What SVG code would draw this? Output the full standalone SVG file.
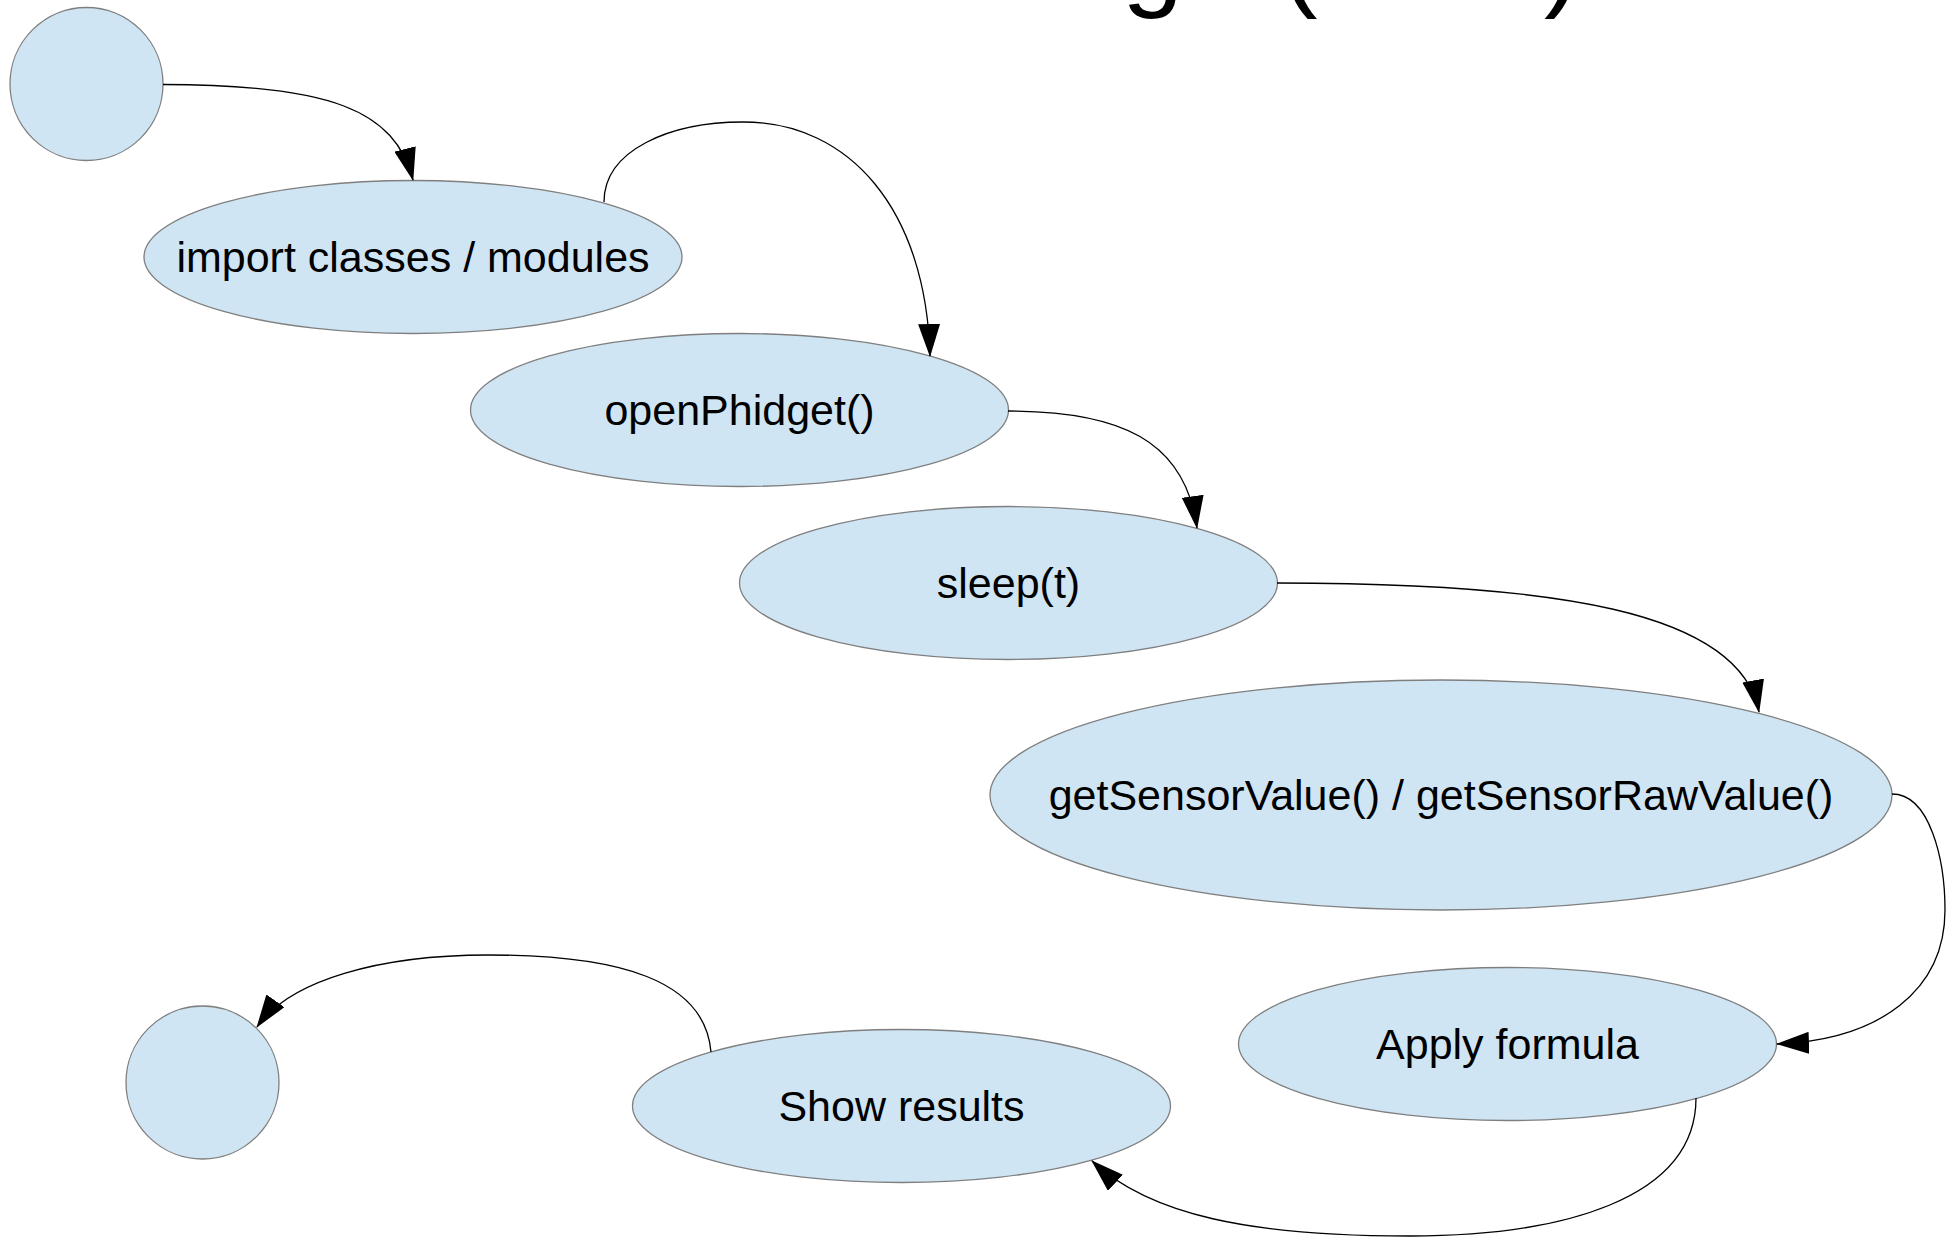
<svg xmlns="http://www.w3.org/2000/svg" width="1952" height="1239" viewBox="0 0 1952 1239">
  <style>
    .node ellipse { fill: #cfe5f3; stroke: #7f7f7f; stroke-width: 1.3; }
    .node text { font-family: "Liberation Sans", Arial, sans-serif; font-size: 43px; fill: #000; text-anchor: middle; }
    .edge { fill: none; stroke: #000; stroke-width: 1.3; marker-end: url(#arrow); }
    .title { font-family: "Liberation Sans", Arial, sans-serif; font-size: 110px; fill: #000; }
  </style>
  <defs>
    <marker id="arrow" markerUnits="userSpaceOnUse" markerWidth="33" markerHeight="22" viewBox="0 0 33 22" refX="32" refY="11" orient="auto">
      <path d="M0,0 L33,11 L0,22 Z" fill="#000"/>
    </marker>
  </defs>
  <rect width="1952" height="1239" fill="#fff"/>

  <text class="title" y="-4" x="1122 1281 1544">g()</text>

  <g id="start" class="node"><ellipse cx="86.5" cy="84" rx="76.5" ry="76.5"/></g>
  <g id="import" class="node"><ellipse cx="413" cy="257" rx="269" ry="76.5"/><text x="413" y="272">import classes / modules</text></g>
  <g id="openPhidget" class="node"><ellipse cx="739.5" cy="410" rx="269" ry="76.5"/><text x="739.5" y="425">openPhidget()</text></g>
  <g id="sleep" class="node"><ellipse cx="1008.5" cy="583" rx="269" ry="76.5"/><text x="1008.5" y="598">sleep(t)</text></g>
  <g id="getSensor" class="node"><ellipse cx="1441" cy="795" rx="451" ry="115"/><text x="1441" y="810">getSensorValue() / getSensorRawValue()</text></g>
  <g id="applyFormula" class="node"><ellipse cx="1507.5" cy="1044" rx="269" ry="76.5"/><text x="1507.5" y="1059">Apply formula</text></g>
  <g id="showResults" class="node"><ellipse cx="901.5" cy="1106" rx="269" ry="76.5"/><text x="901.5" y="1121">Show results</text></g>
  <g id="end" class="node"><ellipse cx="202.5" cy="1082.5" rx="76.5" ry="76.5"/></g>

  <g id="connectors">
    <path class="edge" d="M163,84.5 C330,84.5 395,110 413,180"/>
    <path class="edge" d="M604,202 C604,150 670,122 743,122 C850,122 926,210 930,356"/>
    <path class="edge" d="M1008,411 C1120,411 1185,440 1197,528"/>
    <path class="edge" d="M1277,583 C1550,583 1740,610 1759,712"/>
    <path class="edge" d="M1892,794 C1930,794 1945,860 1945,910 C1945,990 1880,1040 1777,1044"/>
    <path class="edge" d="M1696,1098 C1696,1200 1560,1236 1410,1236 C1250,1236 1150,1215 1092,1161"/>
    <path class="edge" d="M711,1052 C705,980 620,955 488,955 C380,955 290,980 257,1027"/>
  </g>
</svg>
